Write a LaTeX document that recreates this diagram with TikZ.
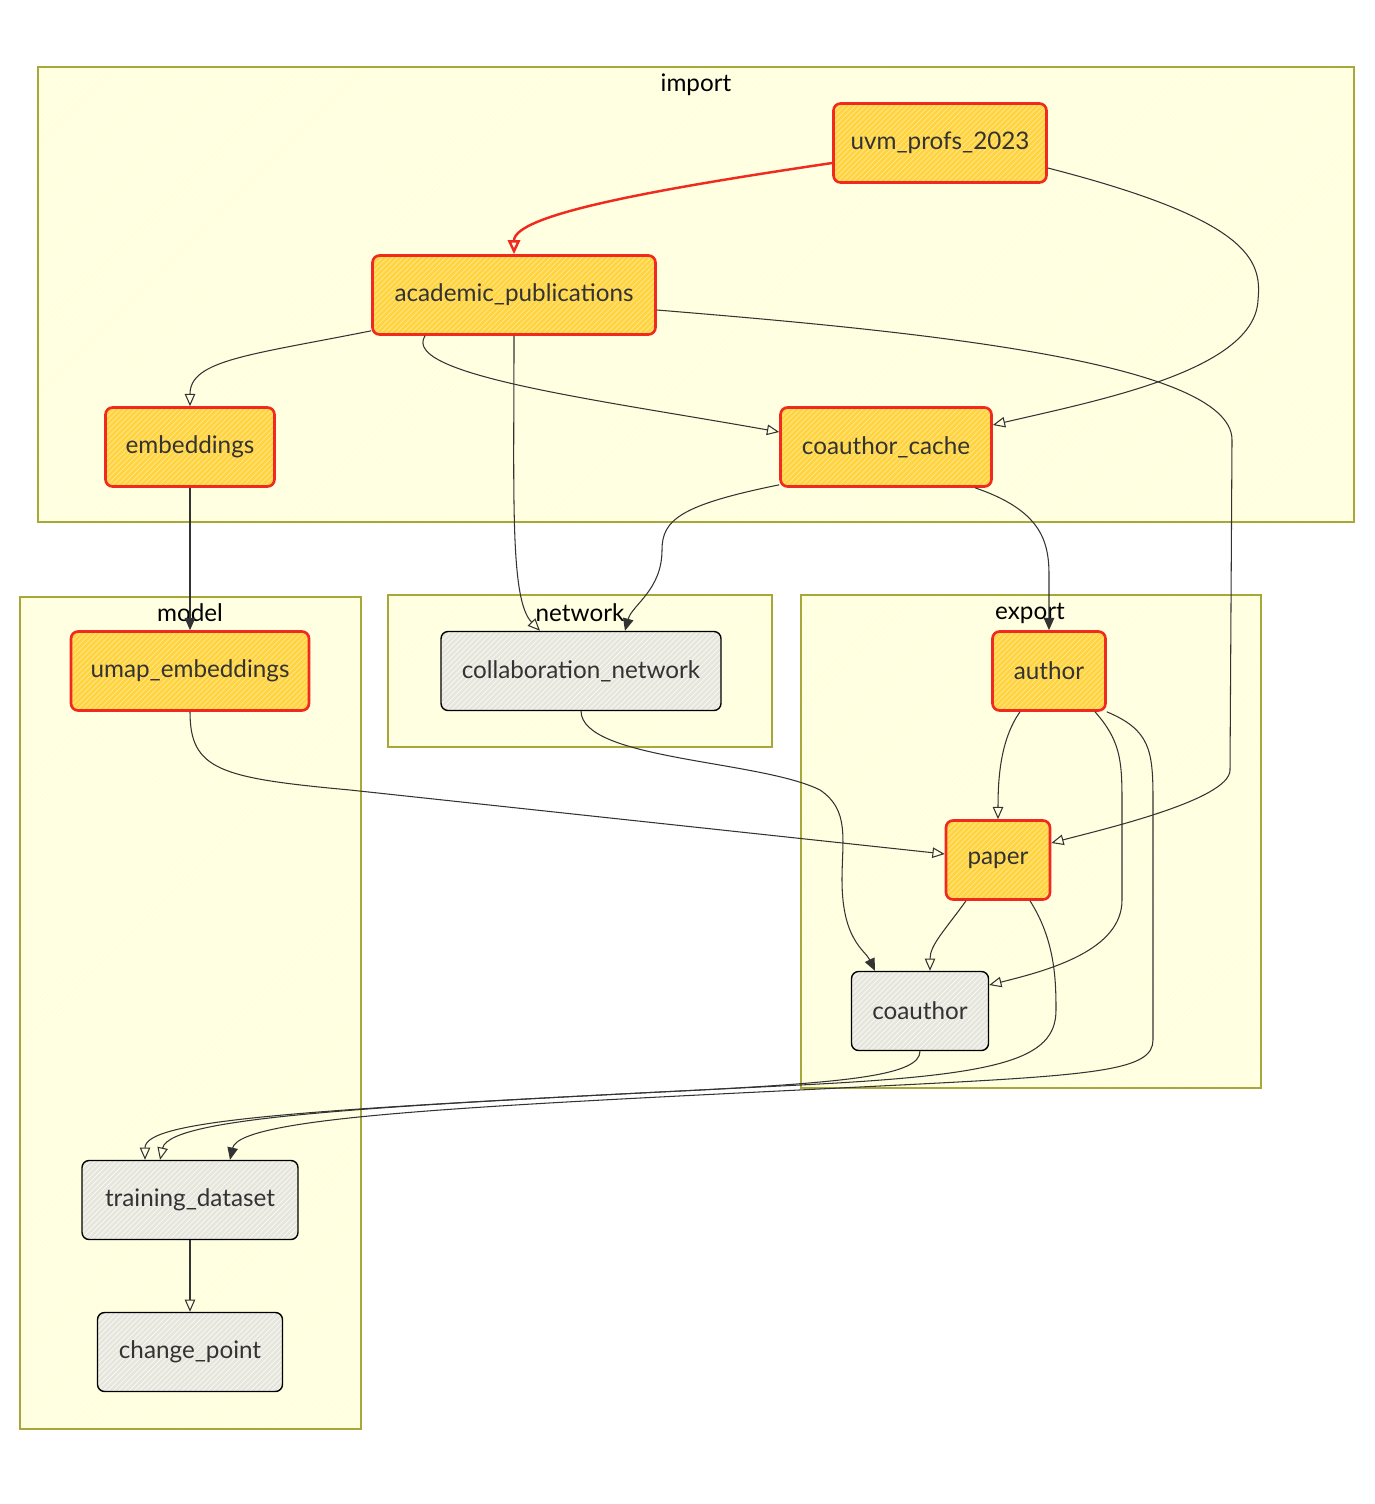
\documentclass[tikz,border=0pt]{standalone}
\usepackage{fontspec}
\setmainfont{Lato}
\usepackage{xcolor}
\usetikzlibrary{arrows.meta, patterns, positioning}

\definecolor{hotfill}{HTML}{FFD43E}
\definecolor{hotline}{HTML}{F02A1E}
\definecolor{plainfill}{HTML}{E6E6DC}
\definecolor{boxfill}{HTML}{FFFFDC}
\definecolor{boxline}{HTML}{A8A83A}
\definecolor{inkline}{HTML}{333333}

\begin{document}
\begin{tikzpicture}[
    x=0.02cm, y=-0.02cm,
    font=\fontsize{13.8}{16}\selectfont,
    cluster/.style={
        rectangle,
        draw=boxline,
        line width=1.2pt,
        preaction={fill=boxfill},
        preaction={pattern=north east lines, pattern color=white!70!boxfill}
    },
    title/.style={
        font=\fontsize{13.8}{16}\selectfont,
        text=black
    },
    hot/.style={
        rectangle,
        rounded corners=4pt,
        draw=hotline,
        line width=1.5pt,
        preaction={fill=hotfill},
        preaction={pattern=north east lines, pattern color=hotfill!55!white},
        text=inkline,
        minimum height=1.58cm
    },
    plain/.style={
        rectangle,
        rounded corners=4pt,
        draw=black,
        line width=0.8pt,
        preaction={fill=plainfill},
        preaction={pattern=north east lines, pattern color=white!80!plainfill},
        text=inkline,
        minimum height=1.58cm
    },
    flow/.style={
        draw=inkline,
        line width=0.6pt,
        -{Triangle[open, length=7pt, width=6pt]}
    },
    solidflow/.style={
        draw=inkline,
        line width=0.6pt,
        -{Triangle[length=7pt, width=6pt]}
    },
    redflow/.style={
        draw=hotline,
        line width=1.4pt,
        -{Triangle[open, length=8pt, width=7pt]}
    }
]

    \useasboundingbox (0,0) rectangle (1374,1504);

    % Subgraph boxes
    \node (importbox) [cluster, minimum width=26.32cm, minimum height=9.1cm] at (696,294.5) {};
    \node (modelbox) [cluster, minimum width=6.82cm, minimum height=16.64cm] at (190.5,1013) {};
    \node (networkbox) [cluster, minimum width=7.68cm, minimum height=3.04cm] at (580,671) {};
    \node (exportbox) [cluster, minimum width=9.2cm, minimum height=9.86cm] at (1031,841.5) {};

    \node (importtitle) [title] at (696,85) {import};
    \node (modeltitle) [title] at (190,613) {model};
    \node (networktitle) [title] at (580,613) {network};
    \node (exporttitle) [title] at (1030,613) {export};

    % 1. import
    \node (uvm) [hot, minimum width=4.26cm] at (940,143) {uvm\_profs\_2023};
    \node (pubs) [hot, minimum width=5.66cm] at (514,295) {academic\_publications};
    \node (emb) [hot, minimum width=3.38cm] at (190,447) {embeddings};
    \node (cache) [hot, minimum width=4.22cm] at (886,447) {coauthor\_cache};

    % 2. model
    \node (umap) [hot, minimum width=4.76cm] at (190,671) {umap\_embeddings};
    \node (train) [plain, minimum width=4.32cm] at (190,1200) {training\_dataset};
    \node (change) [plain, minimum width=3.7cm] at (190,1352) {change\_point};

    % 3. network
    \node (collab) [plain, minimum width=5.6cm] at (581,671) {collaboration\_network};

    % 4. export
    \node (author) [hot, minimum width=2.26cm] at (1049,671) {author};
    \node (paper) [hot, minimum width=2.08cm] at (998,860) {paper};
    \node (coauthor) [plain, minimum width=2.74cm] at (920,1011) {coauthor};

    % Relationships
    \draw[redflow] ([yshift=-0.4cm]uvm.west) .. controls (650,190) and (514,215) .. (pubs.north);
    \draw[flow] ([yshift=-0.5cm]uvm.east) .. controls (1250,220) and (1262,260) .. (1258,300)
        .. controls (1255,370) and (1100,400) .. ([yshift=0.44cm]cache.east);
    \draw[flow] ([yshift=0.1cm]pubs.south west) .. controls (250,355) and (190,360) .. (emb.north);
    \draw[flow] ([xshift=-1.78cm]pubs.south) .. controls (400,375) and (600,400) .. ([yshift=0.3cm]cache.west);
    \draw[flow] (pubs.south) .. controls (514,500) and (510,600) .. ([xshift=-0.82cm]collab.north);
    \draw[flow] ([yshift=-0.3cm]pubs.east) .. controls (900,330) and (1232,360) .. (1232,440)
        -- (1230,770) .. controls (1230,800) and (1100,830) .. ([yshift=0.34cm]paper.east);

    \draw[solidflow] (emb) -- (umap);
    \draw[solidflow] ([yshift=0.06cm]cache.south west) .. controls (680,505) and (662,520) .. (662,550)
        .. controls (662,590) and (632,605) .. ([xshift=0.88cm]collab.north);
    \draw[solidflow] ([xshift=1.78cm]cache.south) .. controls (1040,510) and (1049,540) .. (1049,575)
        -- (author.north);

    \draw[flow] (umap.south) .. controls (190,770) and (220,778) .. (350,790)
        -- ([yshift=0.12cm]paper.west);
    \draw[solidflow] (collab.south) .. controls (582,760) and (760,760) .. (820,790)
        .. controls (850,810) and (842,840) .. (842,880)
        .. controls (842,940) and (865,950) .. ([xshift=-0.9cm]coauthor.north);

    \draw[flow] ([xshift=-0.58cm]author.south) .. controls (1000,740) and (998,780) .. (paper.north);
    \draw[flow] ([xshift=0.92cm]author.south) .. controls (1120,740) and (1122,760) .. (1122,800)
        -- (1122,900) .. controls (1122,950) and (1050,970) .. ([yshift=0.52cm]coauthor.east);
    \draw[solidflow] (author.south east) .. controls (1150,730) and (1153,750) .. (1153,800)
        -- (1153,1040) .. controls (1153,1070) and (1100,1075) .. (900,1085)
        .. controls (500,1105) and (240,1115) .. ([xshift=0.8cm]train.north);

    \draw[flow] ([xshift=-0.64cm]paper.south) .. controls (945,930) and (930,945) .. ([xshift=0.2cm]coauthor.north);
    \draw[flow] ([xshift=0.64cm]paper.south) .. controls (1055,940) and (1056,980) .. (1056,1010)
        .. controls (1056,1060) and (1000,1075) .. (800,1085)
        .. controls (400,1105) and (170,1115) .. ([xshift=-0.6cm]train.north);
    \draw[flow] (coauthor.south) .. controls (920,1075) and (850,1082) .. (700,1090)
        .. controls (300,1110) and (145,1120) .. ([xshift=-0.9cm]train.north);

    \draw[flow] (train) -- (change);

\end{tikzpicture}
\end{document}
